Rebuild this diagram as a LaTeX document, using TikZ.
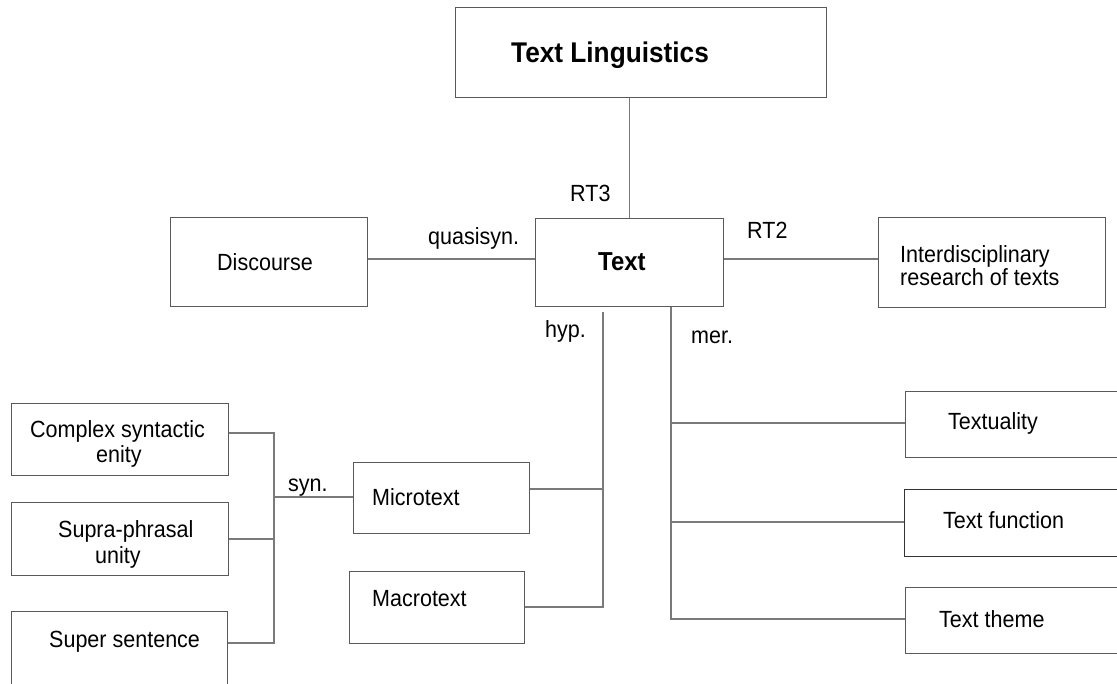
\documentclass[tikz,border=0pt]{standalone}
\usepackage{fontspec}
\setmainfont[FakeStretch=0.92]{Liberation Sans}
\newcommand\myfs[1]{\fontsize{#1}{#1}\selectfont}
\definecolor{boxgray}{HTML}{5A5A5A}
\definecolor{darkbox}{HTML}{333333}
\definecolor{linegray}{HTML}{7A7A7A}
\begin{document}
\begin{tikzpicture}[x=1pt,y=-1pt,
  box/.style={draw=boxgray, line width=1.4pt, inner sep=0pt, anchor=north west},
  conn/.style={draw=linegray, line width=1.4pt},
  lbl/.style={inner sep=0pt, anchor=base west, font=\myfs{23.4}, text=black},
  bold/.style={inner sep=0pt, anchor=base west, font=\bfseries\myfs{#1}, text=black}]
\useasboundingbox (0,0) rectangle (1117,684);
\clip (0,0) rectangle (1117,684);

% boxes
\node[box, minimum width=371pt, minimum height=90pt] (tl) at (455,7) {};
\node[box, minimum width=188pt, minimum height=88pt] (text) at (535,218) {};
\node[box, minimum width=197pt, minimum height=89pt] (disc) at (170,217) {};
\node[box, minimum width=227pt, minimum height=90pt] (inter) at (878,217) {};
\node[box, minimum width=217pt, minimum height=72pt] (complex) at (11,403) {};
\node[box, minimum width=217pt, minimum height=73pt] (supra) at (11,502) {};
\node[box, minimum width=216pt, minimum height=85pt] (super) at (11,611) {};
\node[box, minimum width=176pt, minimum height=71pt] (micro) at (353,462) {};
\node[box, minimum width=175pt, minimum height=72pt] (macro) at (349,571) {};
\node[box, minimum width=260pt, minimum height=66pt] (textuality) at (905,391) {};
\node[box, draw=darkbox, minimum width=260pt, minimum height=67pt] (tfunc) at (904,489) {};
\node[box, minimum width=260pt, minimum height=66pt] (ttheme) at (905,587) {};

% texts
\node[bold=28.5] (tTL) at (511,63) {Text Linguistics};
\node[bold=26] (tText) at (598,271) {Text};
\node[lbl] (tDisc) at (217,271) {Discourse};
\node[lbl] (tInt1) at (900,263) {Interdisciplinary};
\node[lbl] (tInt2) at (900,286) {research of texts};
\node[lbl] (tRT3) at (570,202) {RT3};
\node[lbl] (tRT2) at (747,239) {RT2};
\node[lbl] (tQuasi) at (428,245) {quasisyn.};
\node[lbl] (tHyp) at (545,338) {hyp.};
\node[lbl] (tMer) at (691,344) {mer.};
\node[lbl] (tSyn) at (288,491) {syn.};
\node[lbl] (tCx1) at (30,438) {Complex syntactic};
\node[lbl] (tCx2) at (96,463) {enity};
\node[lbl] (tSp1) at (58,537) {Supra-phrasal};
\node[lbl] (tSp2) at (95,563) {unity};
\node[lbl] (tSup) at (49,647) {Super sentence};
\node[lbl] (tMic) at (372,505) {Microtext};
\node[lbl] (tMac) at (372,606) {Macrotext};
\node[lbl] (tTxy) at (948,430) {Textuality};
\node[lbl] (tTfn) at (943,529) {Text function};
\node[lbl] (tTth) at (939,627) {Text theme};

% junction coordinates
\coordinate (midY) at (0,259);
\coordinate (hypTop) at (603,312);
\coordinate (hypMic) at (603,489);
\coordinate (hypMac) at (603,607);
\coordinate (merA) at (671,423);
\coordinate (merB) at (671,522);
\coordinate (merC) at (671,619);
\coordinate (synA) at (274,433);
\coordinate (synB) at (274,539);
\coordinate (synC) at (274,643);
\coordinate (synM) at (274,497);

% connectors
\draw[conn] (text.north |- tl.south) -- (text.north);
\draw[conn] (disc.east |- midY) -- (text.west |- midY);
\draw[conn] (text.east |- midY) -- (inter.west |- midY);
\draw[conn] (hypTop) -- (hypMac) -- (macro.east |- hypMac);
\draw[conn] (hypMic) -- (micro.east |- hypMic);
\draw[conn] (text.south -| merA) -- (merC) -- (ttheme.west |- merC);
\draw[conn] (merA) -- (textuality.west |- merA);
\draw[conn] (merB) -- (tfunc.west |- merB);
\draw[conn] (complex.east |- synA) -- (synA) -- (synC) -- (super.east |- synC);
\draw[conn] (supra.east |- synB) -- (synB);
\draw[conn] (synM) -- (micro.west |- synM);
\end{tikzpicture}
\end{document}
